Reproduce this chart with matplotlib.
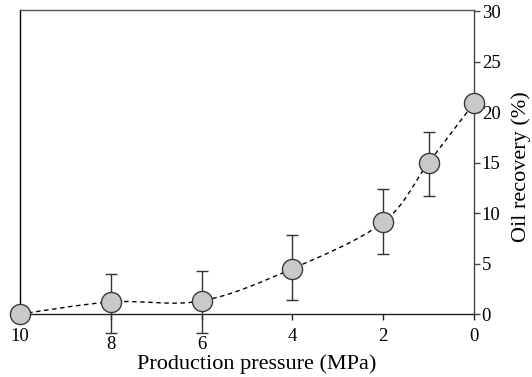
# Oil recovery vs production pressure, error bars + smoothed dashed trend
import numpy as np
import matplotlib
matplotlib.use('Agg')
import matplotlib.pyplot as plt
from matplotlib.path import Path
from matplotlib.patches import PathPatch
from matplotlib.transforms import ScaledTranslation

# data
pressure = [10, 8, 6, 4, 2, 1, 0]
recovery = [0.0, 1.2, 1.3, 4.5, 9.1, 15.0, 20.9]
err_low = [0.0, 3.1, 3.2, 3.1, 3.2, 3.3, 0.0]
err_high = [0.0, 2.8, 3.0, 3.3, 3.3, 3.0, 0.0]
xticks = [10, 8, 6, 4, 2, 0]
yticks = [0, 5, 10, 15, 20, 25, 30]

plt.rcParams['font.family'] = ['Liberation Serif', 'DejaVu Serif']

fig = plt.figure(figsize=(5.32, 3.77), dpi=100)
ax = fig.add_axes([0.038, 0.167, 0.853, 0.806])

# smooth dashed curve through the points (Catmull-Rom as cubic bezier)
pts = np.column_stack([pressure, recovery]).astype(float)
ext = np.vstack([pts[0], pts, pts[-1]])
verts = [tuple(pts[0])]
codes = [Path.MOVETO]
for i in range(len(pts) - 1):
    p0, p1, p2, p3 = ext[i], ext[i + 1], ext[i + 2], ext[i + 3]
    c1 = p1 + (p2 - p0) / 6.0
    c2 = p2 - (p3 - p1) / 6.0
    verts += [tuple(c1), tuple(c2), tuple(p2)]
    codes += [Path.CURVE4] * 3
curve = PathPatch(Path(verts, codes), facecolor='none', edgecolor='black',
                  lw=1.0, linestyle=(0, (3.2, 2.6)), zorder=2)
ax.add_patch(curve)

ax.errorbar(pressure, recovery, yerr=[err_low, err_high], fmt='none',
            ecolor='#333333', elinewidth=1.0, capsize=4.2, capthick=1.0,
            zorder=3, clip_on=False)
ax.plot(pressure, recovery, 'o', ms=14.5, mfc='#c9c9c9', mec='#3a3a3a',
        mew=1.0, zorder=4, clip_on=False)

ax.set_xlim(10, 0)
ax.set_ylim(0, 30.1)

ax.spines['left'].set_color('black')
ax.spines['top'].set_color('#555555')
ax.spines['right'].set_color('#444444')
ax.spines['bottom'].set_color('#222222')
for s in ax.spines.values():
    s.set_linewidth(1.0)

ax.set_xticks(xticks)
ax.set_xticklabels([str(t) for t in xticks])
ax.tick_params(axis='x', direction='out', length=4.5, width=1.0,
               color='#222222', labelsize=13.5, pad=5.5)
ax.yaxis.tick_right()
ax.yaxis.set_label_position('right')
ax.set_yticks(yticks)
ax.tick_params(axis='y', direction='out', length=4, width=1.0,
               color='#444444', labelsize=13.5, pad=1.5)

# the 8 and 6 labels sit lower, below the error bar caps
for lbl in ax.get_xticklabels():
    if lbl.get_text() in ('8', '6'):
        lbl.set_transform(lbl.get_transform() +
                          ScaledTranslation(0, -8 / 100.0, fig.dpi_scale_trans))

ax.set_xlabel('Production pressure (MPa)', fontsize=16)
ax.xaxis.set_label_coords(0.52, -0.133)
ax.set_ylabel('Oil recovery (%)', fontsize=16, rotation=90)
ax.yaxis.set_label_coords(1.082, 0.485)

plt.savefig('out.png', dpi=100)
